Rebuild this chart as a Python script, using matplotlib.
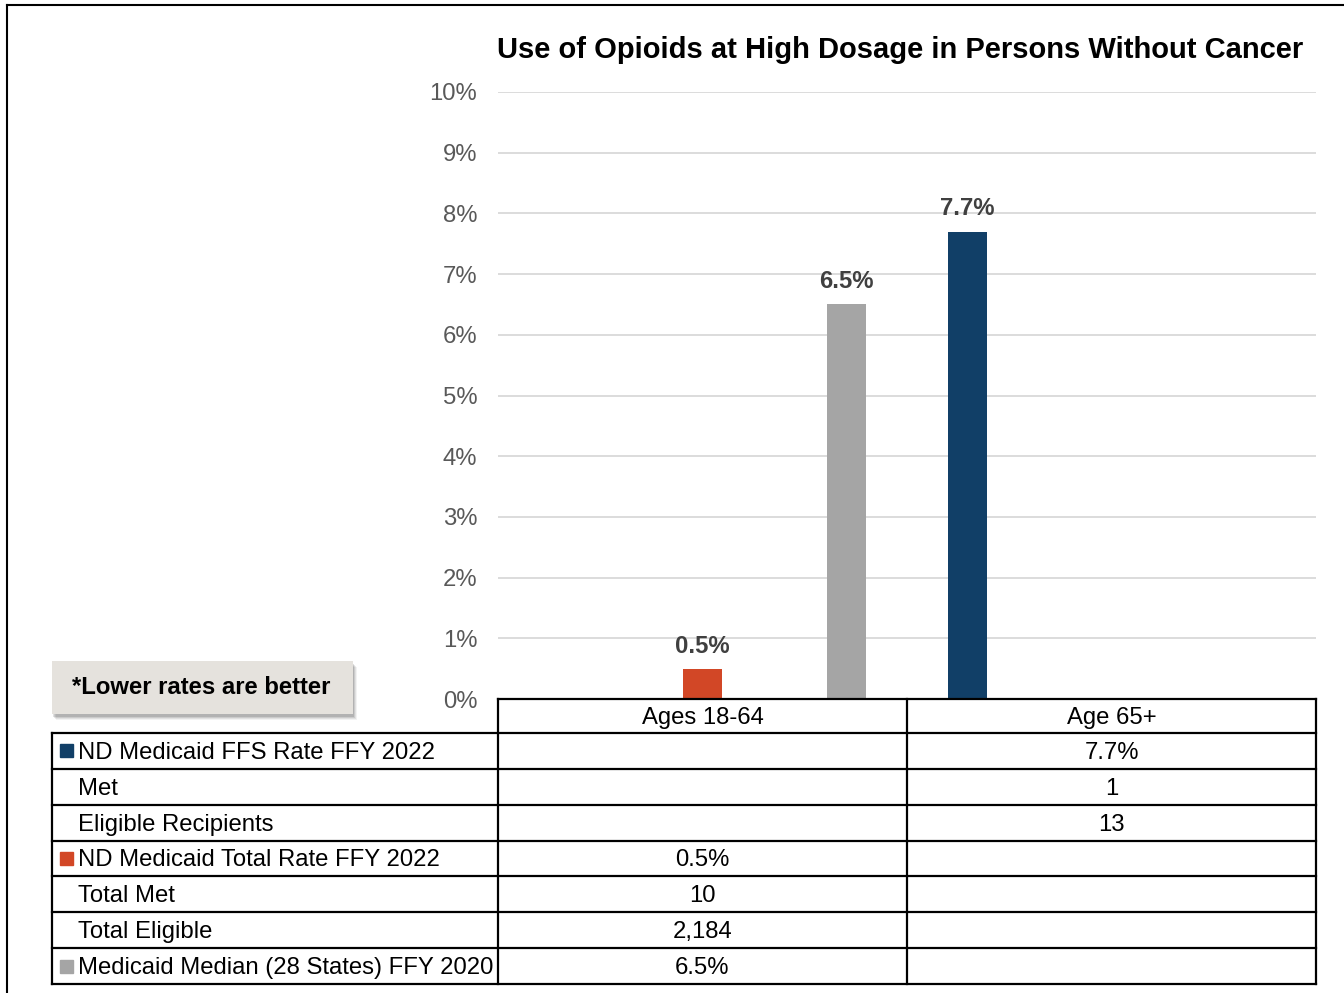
import numpy as np
import matplotlib.pyplot as plt
from matplotlib.patches import Rectangle
from matplotlib.lines import Line2D

plt.rcParams['font.family'] = ['Liberation Sans', 'DejaVu Sans']

categories = ['Ages 18-64', 'Age 65+']
series_names = ['ND Medicaid FFS Rate FFY 2022',
                'ND Medicaid Total Rate FFY 2022',
                'Medicaid Median (28 States) FFY 2020']
ffs_rate = [np.nan, 7.7]
total_rate = [0.5, np.nan]
median_rate = [6.5, np.nan]
series_colors = ['#113F67', '#D24726', '#A5A5A5']

row_labels = ['ND Medicaid FFS Rate FFY 2022', 'Met', 'Eligible Recipients',
              'ND Medicaid Total Rate FFY 2022', 'Total Met', 'Total Eligible',
              'Medicaid Median (28 States) FFY 2020']
row_values = [['', '7.7%'], ['', '1'], ['', '13'],
              ['0.5%', ''], ['10', ''], ['2,184', ''], ['6.5%', '']]
row_marker = [0, None, None, 1, None, None, 2]

W, H = 1344, 993
fig = plt.figure(figsize=(W / 100, H / 100), dpi=100)
FS = 17.2


def fx(px):
    return px / W


def fy(py):
    return 1 - py / H


# outer frame on top and left edge
fig.add_artist(Line2D([fx(7), 1], [fy(5), fy(5)], color='black', lw=1.5))
fig.add_artist(Line2D([fx(7), fx(7)], [fy(5), 0], color='black', lw=1.5))

# bar area
left, right, top, bottom = 498, 1316, 92, 699
ax = fig.add_axes([fx(left), fy(bottom), fx(right - left), (bottom - top) / H])
x = np.arange(len(categories))
offset = 0.352
width = 0.095
for i, vals in enumerate([ffs_rate, total_rate, median_rate]):
    pos = x + (i - 1) * offset
    ax.bar(pos, vals, width=width, color=series_colors[i], zorder=3)
    for xb, v in zip(pos, vals):
        if not np.isnan(v):
            ax.annotate(f'{v:.1f}%', (xb, v), xytext=(0, 8), textcoords='offset points',
                        ha='center', va='bottom', fontsize=FS, fontweight='bold',
                        color='#404040')

ax.set_xlim(-0.5, 1.5)
ax.set_ylim(0, 10)
ax.set_yticks(np.arange(0, 11, 1))
ax.set_yticklabels([f'{t}%' for t in range(11)])
ax.tick_params(axis='y', length=0, labelsize=FS, labelcolor='#595959', pad=15)
ax.set_xticks([])
ax.grid(axis='y', color='#D9D9D9', lw=1.3, zorder=0)
for s in ax.spines.values():
    s.set_visible(False)

fig.text(fx(900), fy(50), 'Use of Opioids at High Dosage in Persons Without Cancer',
         ha='center', va='center', fontsize=21, fontweight='bold')

# data table below the bars
label_left = 52
col_edges = [left, (left + right) / 2, right]
header_top, header_bot = 699, 733
row_h = (984 - 733) / len(row_labels)
lw = 1.6
ty = 2  # text sits slightly below the cell centre


def hline(x0, x1, y):
    fig.add_artist(Line2D([fx(x0), fx(x1)], [fy(y), fy(y)], color='black', lw=lw))


def vline(xp, y0, y1):
    fig.add_artist(Line2D([fx(xp), fx(xp)], [fy(y0), fy(y1)], color='black', lw=lw))


hline(left, right, header_top)
for xe in col_edges:
    vline(xe, header_top, 984)
for j, cat in enumerate(categories):
    fig.text(fx((col_edges[j] + col_edges[j + 1]) / 2), fy((header_top + header_bot) / 2 + ty),
             cat, ha='center', va='center', fontsize=FS)

vline(label_left, header_bot, 984)
for r in range(len(row_labels) + 1):
    hline(label_left, right, header_bot + r * row_h)

for r, lab in enumerate(row_labels):
    yc = header_bot + (r + 0.5) * row_h
    if row_marker[r] is not None:
        fig.add_artist(Rectangle((fx(60), fy(yc + 6.5)), fx(13), 13 / H,
                                 color=series_colors[row_marker[r]]))
    fig.text(fx(78), fy(yc + ty), lab, ha='left', va='center', fontsize=FS)
    for j, val in enumerate(row_values[r]):
        fig.text(fx((col_edges[j] + col_edges[j + 1]) / 2), fy(yc + ty), val,
                 ha='center', va='center', fontsize=FS)

# note box with soft shadow
for k, a in enumerate([0.05, 0.07, 0.09, 0.12]):
    d = 4 - k
    fig.add_artist(Rectangle((fx(52 + d), fy(714 + d + 2)), fx(301), 53 / H,
                             color='black', alpha=a, lw=0))
fig.add_artist(Rectangle((fx(52), fy(714)), fx(301), 53 / H,
                         facecolor='#E5E2DD', edgecolor='none'))
fig.text(fx(72), fy(687), '*Lower rates are better', ha='left', va='center',
         fontsize=FS, fontweight='bold')

fig.savefig('out.png', dpi=100)
